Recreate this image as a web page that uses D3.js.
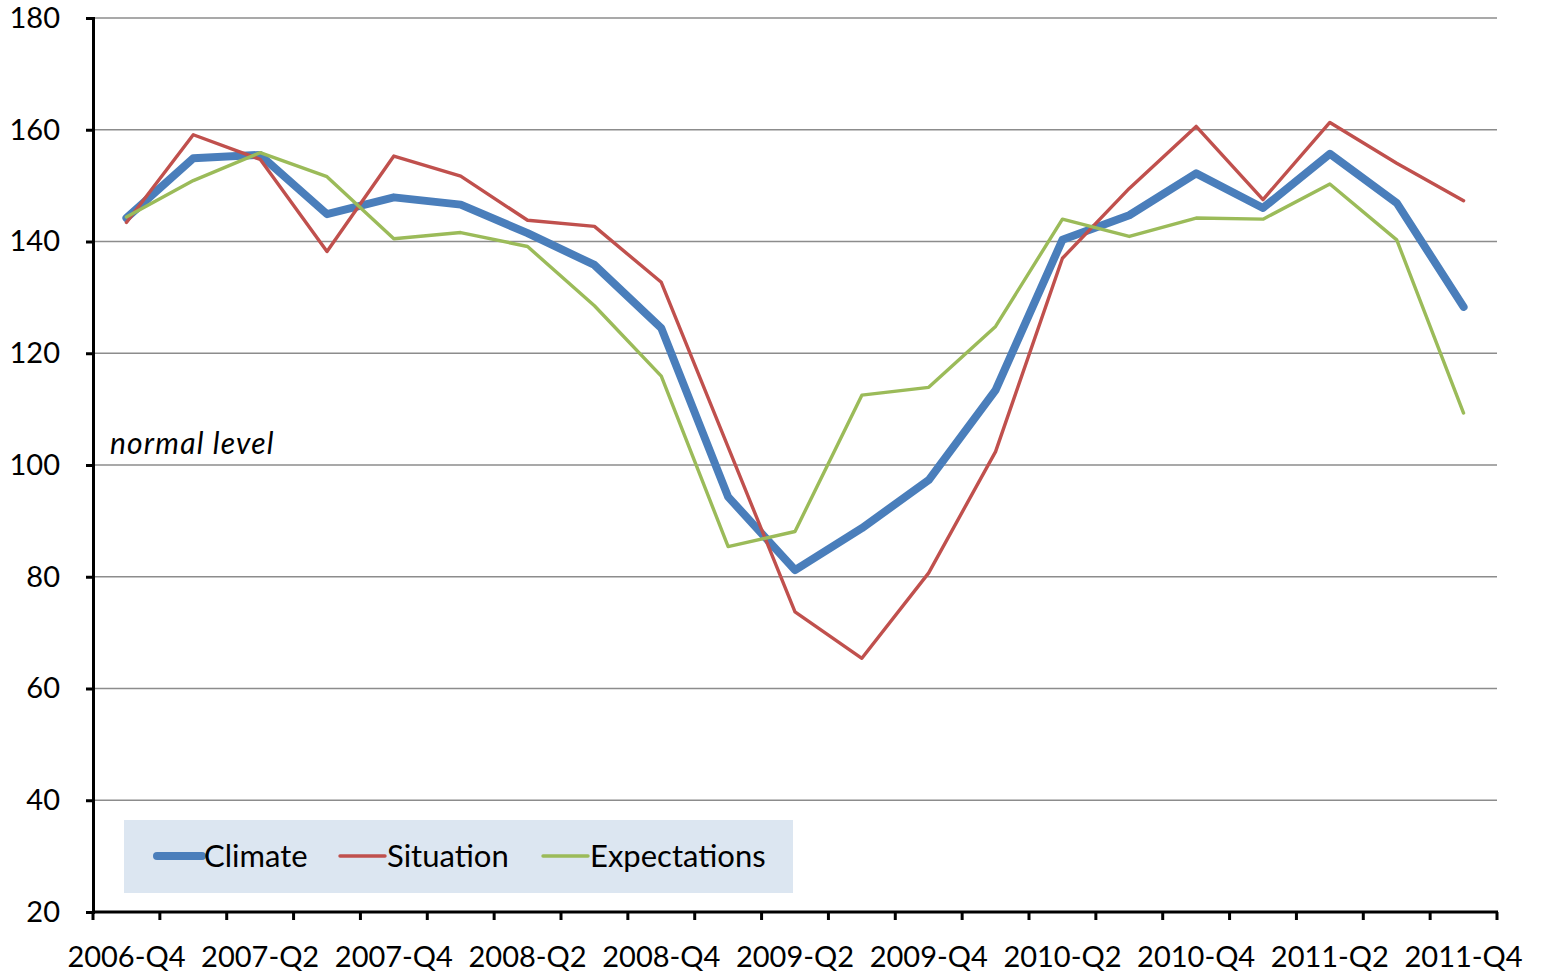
<!DOCTYPE html>
<html>
<head>
<meta charset="utf-8">
<script src="https://cdn.jsdelivr.net/npm/d3@7"></script>
<style>
  body { margin: 0; background: #fff; }
  svg { display: block; font-family: Lato, "Open Sans", sans-serif; }
</style>
</head>
<body>
<svg width="1544" height="977"></svg>
<script>
var quarters = ['2006-Q4','2007-Q1','2007-Q2','2007-Q3','2007-Q4','2008-Q1','2008-Q2','2008-Q3',
    '2008-Q4','2009-Q1','2009-Q2','2009-Q3','2009-Q4','2010-Q1','2010-Q2','2010-Q3',
    '2010-Q4','2011-Q1','2011-Q2','2011-Q3','2011-Q4'];

var climate = [144.2, 154.9, 155.5, 144.9, 147.9, 146.6, 141.5, 135.8, 124.5, 94.3, 81.2,
    88.7, 97.3, 113.4, 140.3, 144.7, 152.2, 146.0, 155.7, 146.9, 128.3];
var situation = [143.4, 159.1, 154.7, 138.2, 155.3, 151.7, 143.8, 142.7, 132.7, 103.2, 73.7,
    65.4, 80.7, 102.4, 137.0, 149.5, 160.6, 147.5, 161.3, 154.0, 147.3];
var expectations = [144.4, 150.9, 155.9, 151.6, 140.5, 141.6, 139.1, 128.5, 115.9, 85.4, 88.1,
    112.5, 113.9, 124.8, 144.0, 140.9, 144.2, 144.0, 150.3, 140.3, 109.3];

var yTicks = [20, 40, 60, 80, 100, 120, 140, 160, 180];

var series = [
    { name: 'Climate', values: climate, color: '#4a7ebb', width: 8 },
    { name: 'Situation', values: situation, color: '#c0504d', width: 3.4 },
    { name: 'Expectations', values: expectations, color: '#9bbb59', width: 3.4 }
];

var svg = d3.select('svg');

var x = d3.scaleBand().domain(quarters).range([93, 1497]).padding(0);
var y = d3.scaleLinear().domain([20, 180]).range([912, 18]);

// grid
svg.append('g')
    .selectAll('line')
    .data(yTicks.slice(1))
    .enter().append('line')
    .attr('x1', 93).attr('x2', 1497)
    .attr('y1', d => y(d)).attr('y2', d => y(d))
    .attr('stroke', '#8c8c8c')
    .attr('stroke-width', 1.3);

// y axis
var yAxis = svg.append('g')
    .attr('transform', 'translate(93,0)')
    .call(d3.axisLeft(y).tickValues(yTicks).tickSize(7).tickPadding(26));
yAxis.select('.domain').attr('stroke', '#000').attr('stroke-width', 3);
yAxis.selectAll('.tick line').attr('stroke', '#000').attr('stroke-width', 3);
yAxis.selectAll('.tick text')
    .attr('font-size', 29)
    .attr('font-family', 'Lato, sans-serif')
    .attr('fill', '#000');

// x axis
var xAxis = svg.append('g')
    .attr('transform', 'translate(0,912)')
    .call(d3.axisBottom(x).tickSize(0).tickPadding(34)
        .tickFormat((d, i) => i % 2 === 0 ? d : ''));
xAxis.select('.domain').remove();
xAxis.selectAll('.tick text')
    .attr('font-size', 29)
    .attr('font-family', 'Lato, sans-serif')
    .attr('fill', '#000');

svg.append('line')
    .attr('x1', 92).attr('x2', 1498)
    .attr('y1', 912).attr('y2', 912)
    .attr('stroke', '#000').attr('stroke-width', 3);

svg.append('g')
    .selectAll('line')
    .data(quarters.map(q => x(q)).concat([x.range()[1]]))
    .enter().append('line')
    .attr('x1', d => d).attr('x2', d => d)
    .attr('y1', 912).attr('y2', 920)
    .attr('stroke', '#000').attr('stroke-width', 3);

// lines
var line = d3.line()
    .x((d, i) => x(quarters[i]) + x.bandwidth() / 2)
    .y(d => y(d));

svg.append('g')
    .selectAll('path')
    .data(series)
    .enter().append('path')
    .attr('d', d => line(d.values))
    .attr('fill', 'none')
    .attr('stroke', d => d.color)
    .attr('stroke-width', d => d.width)
    .attr('stroke-linejoin', 'round')
    .attr('stroke-linecap', 'round');

// annotation
svg.append('text')
    .attr('x', 110).attr('y', 454)
    .attr('font-size', 30)
    .attr('font-style', 'italic')
    .attr('letter-spacing', 1.2)
    .attr('font-family', 'Lato, sans-serif')
    .text('normal level');

// legend
var legend = svg.append('g');
legend.append('rect')
    .attr('x', 124).attr('y', 820)
    .attr('width', 669).attr('height', 73)
    .attr('fill', '#dce6f1');

var legendX = [157, 340, 543];
var items = legend.selectAll('g.item')
    .data(series)
    .enter().append('g')
    .attr('class', 'item')
    .attr('transform', (d, i) => 'translate(' + legendX[i] + ',856)');
items.append('line')
    .attr('x1', 0).attr('x2', 45)
    .attr('stroke', d => d.color)
    .attr('stroke-width', d => d.width)
    .attr('stroke-linecap', 'round');
items.append('text')
    .attr('x', 47).attr('dy', '0.35em')
    .attr('font-size', 31)
    .attr('font-family', 'Lato, sans-serif')
    .text(d => d.name);
</script>
</body>
</html>
